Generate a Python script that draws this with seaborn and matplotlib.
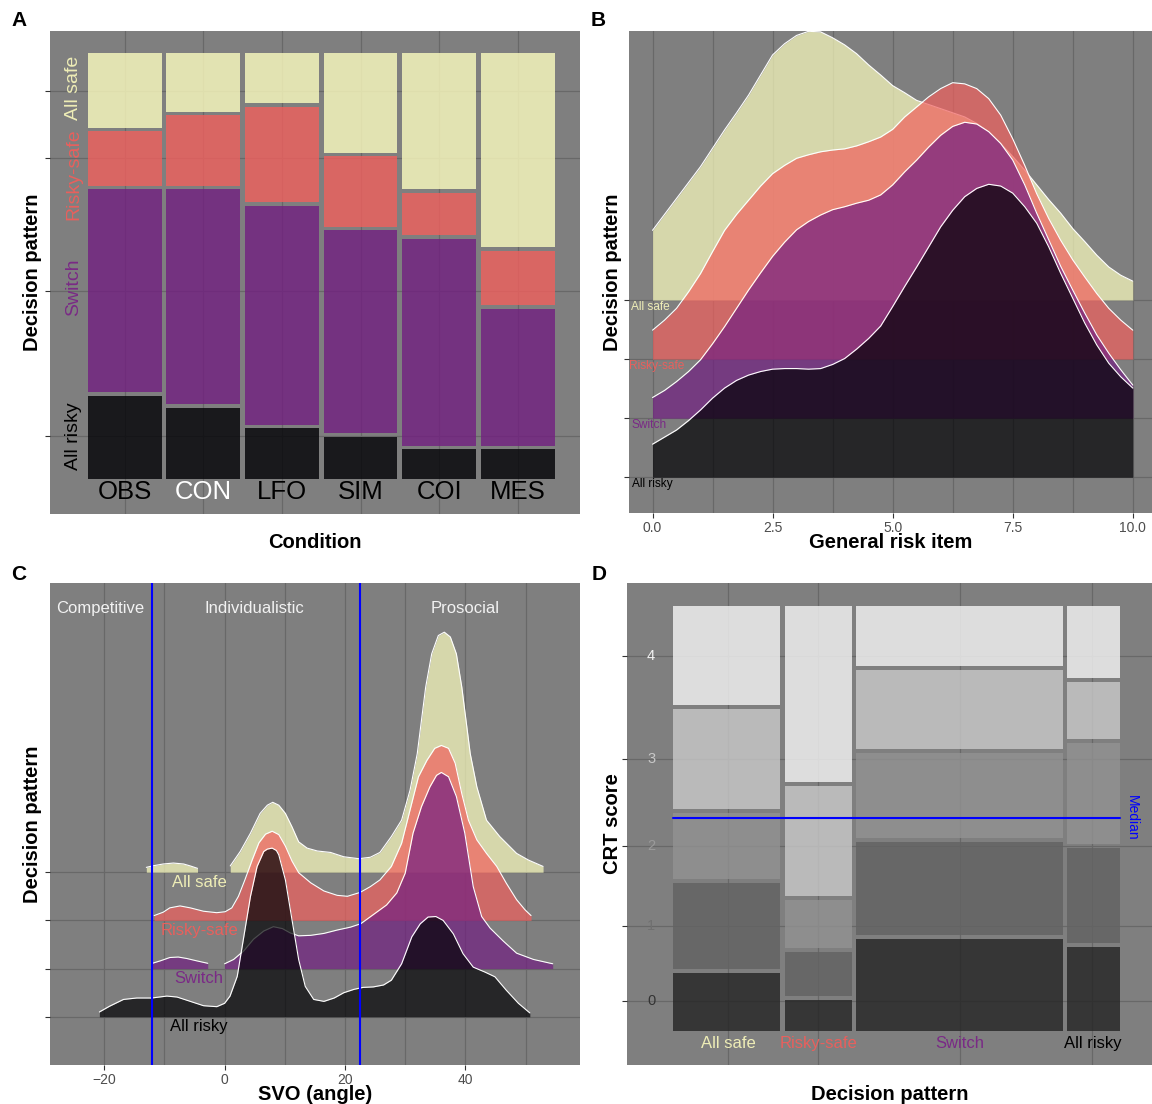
import numpy as np
import matplotlib
matplotlib.use("Agg")
import matplotlib.pyplot as plt
import seaborn as sns

# ======================= DATA =======================
# decision patterns, bottom -> top in the ridge / mosaic stacks
pattern_names = ["All risky", "Switch", "Risky-safe", "All safe"]
pattern_fill = ["#000004", "#721F81", "#F1605D", "#FCFDBF"]
pattern_text = ["#000000", "#7A2A86", "#E8605D", "#EEEDB6"]

# Panel A: share of each decision pattern per condition
conditions = ["OBS", "CON", "LFO", "SIM", "COI", "MES"]
condition_text = ["black", "white", "black", "black", "black", "black"]
share_all_risky = [0.199, 0.170, 0.122, 0.102, 0.073, 0.073]
share_switch = [0.485, 0.513, 0.523, 0.485, 0.495, 0.330]
share_risky_safe = [0.136, 0.174, 0.234, 0.174, 0.107, 0.137]
share_all_safe = [0.180, 0.142, 0.122, 0.238, 0.325, 0.461]

# Panel B: density ridges over the general risk item (ridge heights in row units)
risk_x = [0.0, 0.25, 0.5, 0.75, 1.0, 1.25, 1.5, 1.75, 2.0, 2.25, 2.5, 2.75, 3.0,
          3.25, 3.5, 3.75, 4.0, 4.25, 4.5, 4.75, 5.0, 5.25, 5.5, 5.75, 6.0, 6.25,
          6.5, 6.75, 7.0, 7.25, 7.5, 7.75, 8.0, 8.25, 8.5, 8.75, 9.0, 9.25, 9.5,
          9.75, 10.0]
risk_all_safe = [1.18, 1.45, 1.72, 1.99, 2.26, 2.57, 2.88, 3.17, 3.47, 3.81, 4.15, 4.34, 4.48,
                 4.55, 4.54, 4.44, 4.32, 4.17, 3.98, 3.81, 3.63, 3.51, 3.38, 3.31, 3.24, 3.17,
                 3.10, 2.99, 2.85, 2.65, 2.43, 2.20, 1.95, 1.70, 1.47, 1.21, 0.99, 0.76, 0.56,
                 0.42, 0.32]
risk_risky_safe = [0.49, 0.66, 0.86, 1.14, 1.45, 1.82, 2.18, 2.45, 2.69, 2.93, 3.14, 3.28, 3.40,
                   3.46, 3.51, 3.54, 3.56, 3.61, 3.68, 3.76, 3.89, 4.10, 4.27, 4.44, 4.58, 4.68,
                   4.66, 4.58, 4.41, 4.13, 3.73, 3.28, 2.80, 2.38, 2.01, 1.68, 1.39, 1.11, 0.86,
                   0.66, 0.49]
risk_switch = [0.35, 0.47, 0.62, 0.79, 0.99, 1.26, 1.55, 1.86, 2.17, 2.46, 2.74, 2.98, 3.19,
               3.33, 3.44, 3.53, 3.58, 3.64, 3.69, 3.78, 3.95, 4.17, 4.37, 4.59, 4.79, 4.94,
               5.01, 4.98, 4.85, 4.65, 4.37, 3.95, 3.47, 3.02, 2.57, 2.17, 1.78, 1.41, 1.10,
               0.82, 0.56]
risk_all_risky = [0.56, 0.68, 0.80, 0.96, 1.14, 1.34, 1.51, 1.64, 1.73, 1.79, 1.83, 1.84, 1.84,
                  1.83, 1.84, 1.91, 2.01, 2.17, 2.35, 2.56, 2.89, 3.23, 3.56, 3.90, 4.24, 4.52,
                  4.75, 4.89, 4.96, 4.93, 4.81, 4.58, 4.30, 3.90, 3.45, 3.03, 2.61, 2.24, 1.93,
                  1.70, 1.51]

# Panel C: density ridges over SVO angle (nan separates drawn pieces)
nan = float("nan")
svo_x_all_safe = [-13.0, -12.0, -10.2, -8.5, -6.8, -5.7, -4.5, nan,
                  0.94, 2.6, 4.3, 5.9, 7.1, 8.0, 9.0, 10.1, 11.2, 12.3, 13.7, 15.4,
                  17.6, 19.8, 22.3, 24.2, 25.8, 27.7, 29.4, 30.8, 32.0, 33.4, 34.4,
                  35.5, 36.5, 37.5, 38.5, 39.4, 40.8, 41.9, 43.5, 45.7, 48.5, 50.5, 52.9]
svo_h_all_safe = [0.10, 0.13, 0.17, 0.19, 0.17, 0.13, 0.08, nan,
                  0.13, 0.43, 0.81, 1.22, 1.39, 1.45, 1.39, 1.22, 0.94, 0.63, 0.50, 0.44,
                  0.41, 0.32, 0.28, 0.31, 0.41, 0.74, 1.08, 1.70, 2.46, 3.84, 4.53,
                  4.91, 4.98, 4.88, 4.53, 3.84, 2.46, 1.77, 1.08, 0.74, 0.39, 0.25, 0.12]
svo_x_risky_safe = [-11.7, -10.2, -9.1, -7.4, -5.7, -3.5, -1.3, 0.1, 1.2, 2.3, 3.4,
                    4.6, 5.7, 6.8, 7.9, 9.0, 10.1, 11.2, 12.3, 14.3, 16.5, 18.7, 20.4,
                    22.5, 24.2, 25.8, 27.7, 29.4, 30.8, 32.2, 33.6, 34.9, 36.0, 37.2,
                    38.3, 39.4, 40.5, 41.9, 43.5, 45.2, 46.8, 48.5, 49.9, 50.9]
svo_h_risky_safe = [0.10, 0.17, 0.26, 0.30, 0.26, 0.19, 0.16, 0.18, 0.26, 0.50, 0.85,
                    1.26, 1.61, 1.79, 1.85, 1.78, 1.54, 1.23, 0.99, 0.78, 0.61, 0.52, 0.50,
                    0.58, 0.70, 0.84, 1.12, 1.60, 2.29, 2.98, 3.32, 3.57, 3.63, 3.57,
                    3.26, 2.63, 2.08, 1.67, 1.39, 1.12, 0.77, 0.43, 0.22, 0.10]
svo_x_switch = [-12.0, -10.7, -9.1, -7.7, -6.3, -4.6, -2.8, nan,
                0.0, 1.5, 3.2, 4.8, 6.5, 8.1, 9.6, 10.9, 12.3, 14.3, 16.5, 18.7, 20.9,
                22.6, 24.7, 26.9, 28.6, 30.0, 31.3, 32.7, 34.1, 35.2, 36.0, 37.2, 38.5,
                39.9, 41.3, 42.7, 44.1, 46.3, 48.5, 51.3, 54.5]
svo_h_switch = [0.11, 0.16, 0.23, 0.24, 0.21, 0.16, 0.11, nan,
                0.10, 0.19, 0.37, 0.61, 0.78, 0.87, 0.83, 0.74, 0.68, 0.69, 0.73, 0.80, 0.86,
                0.93, 1.12, 1.32, 1.57, 1.98, 2.81, 3.36, 3.77, 4.01, 4.07, 3.98, 3.57,
                2.81, 1.70, 1.08, 0.84, 0.57, 0.32, 0.19, 0.10]
svo_x_all_risky = [-20.8, -19.1, -16.8, -14.6, -12.1, -9.6, -7.9, -5.7, -3.5, -1.3, 0.0,
                   0.9, 2.1, 3.2, 4.3, 5.4, 6.5, 7.1, 7.9, 8.6, 9.0, 10.1, 11.2, 12.3, 13.4,
                   14.8, 16.5, 18.2, 19.8, 21.5, 23.0, 24.7, 26.4, 27.7, 29.4, 31.1, 32.5,
                   33.8, 35.1, 36.3, 38.0, 39.6, 41.3, 43.2, 44.9, 46.8, 48.8, 50.7]
svo_h_all_risky = [0.10, 0.22, 0.36, 0.39, 0.39, 0.43, 0.41, 0.32, 0.23, 0.21, 0.28,
                   0.43, 0.84, 1.67, 2.50, 3.12, 3.43, 3.48, 3.50, 3.45, 3.36, 2.84, 2.01, 1.19,
                   0.63, 0.36, 0.32, 0.39, 0.50, 0.57, 0.61, 0.62, 0.66, 0.76, 1.10, 1.66, 1.93,
                   2.07, 2.08, 2.00, 1.72, 1.31, 1.03, 0.93, 0.83, 0.55, 0.28, 0.08]
svo_bounds = [-12.04, 22.45]
svo_regions = ["Competitive", "Individualistic", "Prosocial"]

# Panel D: CRT score mosaic per decision pattern
crt_patterns = ["All safe", "Risky-safe", "Switch", "All risky"]
crt_pattern_text = ["#EEEDB6", "#E8605D", "#7A2A86", "#000000"]
crt_pattern_share = [0.244, 0.161, 0.472, 0.123]
crt_scores = ["0", "1", "2", "3", "4"]
crt_score_fill = ["#242424", "#626262", "#929292", "#C9C9C9", "#F6F6F6"]
crt_score_text = ["#333333", "#707070", "#9A9A9A", "#C8C8C8", "#F2F2F2"]
crt_all_safe = [0.142, 0.211, 0.165, 0.243, 0.239]
crt_risky_safe = [0.077, 0.113, 0.123, 0.268, 0.418]
crt_switch = [0.220, 0.228, 0.211, 0.194, 0.147]
crt_all_risky = [0.203, 0.232, 0.247, 0.142, 0.176]
crt_median_share = 0.50

# ======================= STYLE =======================
sns.set_theme(style="dark")
plt.rcParams['font.family'] = ['Liberation Sans', 'DejaVu Sans']

W, H = 1152, 1104
fig = plt.figure(figsize=(W / 100, H / 100), dpi=100)
fig.patch.set_facecolor("white")

BG = "#7F7F7F"
GRID = "#686868"


def add_ax(l, t, r, b):
    return fig.add_axes([l / W, 1 - b / H, (r - l) / W, (b - t) / H])


def style_ax(ax):
    ax.set_facecolor(BG)
    for s in ax.spines.values():
        s.set_visible(False)
    ax.grid(True, which="both", color=GRID, lw=0.9)
    ax.set_axisbelow(True)
    ax.tick_params(which="major", bottom=True, left=True, color="#333333",
                   length=3.5, width=0.8, labelcolor="#4D4D4D", labelsize=10, pad=2)
    ax.tick_params(which="minor", bottom=False, left=False, length=0)


def axis_titles(ax, xl, yl, xy, yx):
    ax.set_xlabel(xl, fontsize=14.5, fontweight="bold", color="black", va="center")
    ax.set_ylabel(yl, fontsize=14.5, fontweight="bold", color="black", va="center")
    ax.xaxis.set_label_coords(0.5, xy)
    ax.yaxis.set_label_coords(yx, 0.5)


def pieces(x, h):
    x = np.asarray(x, float)
    h = np.asarray(h, float)
    out, cur = [], []
    for xi, hi in zip(x, h):
        if np.isnan(xi) or np.isnan(hi):
            if cur:
                out.append(np.array(cur))
            cur = []
        else:
            cur.append((xi, hi))
    if cur:
        out.append(np.array(cur))
    return out


def ridges(ax, series, zbase=2):
    # series: list of (baseline, x, h, color) drawn top row first
    for k, (base, x, h, col) in enumerate(series):
        for p in pieces(x, h):
            ax.fill_between(p[:, 0], base, base + p[:, 1], color=col, alpha=0.7,
                            lw=0, zorder=zbase + k)
            sns.lineplot(x=p[:, 0], y=base + p[:, 1], ax=ax, color="white", lw=0.8,
                         sort=False, estimator=None, zorder=zbase + k + 0.5)


# ======================= PANEL A =======================
axA = add_ax(50, 31, 579.5, 514)
style_ax(axA)
shares = np.array([share_all_risky, share_switch, share_risky_safe, share_all_safe], float)
shares = shares / shares.sum(axis=0)
cum = np.vstack([np.zeros(shares.shape[1]), np.cumsum(shares, axis=0)])
xpos = np.arange(len(conditions))
gapA = 0.0085
for k in range(4):
    lo = cum[k] + (gapA / 2 if k > 0 else 0)
    hi = cum[k + 1] - (gapA / 2 if k < 3 else 0)
    axA.bar(xpos, hi - lo, bottom=lo, width=0.94, color=pattern_fill[k], alpha=0.8,
            lw=0, zorder=2)
axA.set_xlim(-0.951, 5.786)
axA.set_ylim(-0.0834, 1.0515)
axA.set_xticks(xpos)
axA.set_xticklabels([])
axA.tick_params(axis="x", length=0)
obs_centers = (cum[:-1, 0] + cum[1:, 0]) / 2
axA.set_yticks(obs_centers)
axA.set_yticklabels([])
label_y_A = [0.1006, 0.449, 0.715, 0.919]
for k in range(4):
    axA.text(-0.646, label_y_A[k], pattern_names[k], rotation=90, ha="center",
             va="center", color=pattern_text[k], fontsize=14, zorder=5)
for i, c in enumerate(conditions):
    axA.text(i, -0.0317, c, ha="center", va="center", fontsize=18.5,
             color=condition_text[i], zorder=5)
axis_titles(axA, "Condition", "Decision pattern", (514 - 542) / 483, (32.5 - 50) / 529.5)

# ======================= PANEL B =======================
axB = add_ax(629, 31, 1152, 513)
style_ax(axB)
axB.set_xlim(-0.49, 10.40)
axB.set_ylim(0.395, 8.555)
axB.set_xticks([0, 2.5, 5.0, 7.5, 10.0])
axB.set_xticklabels(["0.0", "2.5", "5.0", "7.5", "10.0"])
axB.set_xticks([1.25, 3.75, 6.25, 8.75], minor=True)
axB.set_yticks([1, 2, 3, 4])
axB.set_yticklabels([])
risk_series = [risk_all_risky, risk_switch, risk_risky_safe, risk_all_safe]
ridges(axB, [(k + 1, risk_x, risk_series[k], pattern_fill[k]) for k in (3, 2, 1, 0)])
label_x_B = [-0.42, -0.44, -0.49, -0.44]
for k in range(4):
    axB.text(label_x_B[k], k + 1 - 0.11, pattern_names[k], ha="left", va="center",
             fontsize=8.6, color=pattern_text[k], zorder=20)
axis_titles(axB, "General risk item", "Decision pattern", (513 - 542) / 482, (612 - 629) / 523)

# ======================= PANEL C =======================
axC = add_ax(50, 583, 579.5, 1065)
style_ax(axC)
axC.set_xlim(-29.0, 58.95)
axC.set_ylim(0.0, 10.0)
axC.set_xticks([-20, 0, 20, 40])
axC.set_xticklabels(["\u221220", "0", "20", "40"])
axC.set_xticks([-10, 10, 30, 50], minor=True)
axC.set_yticks([1, 2, 3, 4])
axC.set_yticklabels([])
svo_series = [(svo_x_all_risky, svo_h_all_risky), (svo_x_switch, svo_h_switch),
              (svo_x_risky_safe, svo_h_risky_safe), (svo_x_all_safe, svo_h_all_safe)]
ridges(axC, [(k + 1, svo_series[k][0], svo_series[k][1], pattern_fill[k]) for k in (3, 2, 1, 0)])
for b in svo_bounds:
    axC.axvline(b, color="#0000FF", lw=1.5, zorder=30)
for k in range(4):
    axC.text(-4.25, k + 1 - 0.21, pattern_names[k], ha="center", va="center",
             fontsize=12, color=pattern_text[k], zorder=31)
for name, xc in zip(svo_regions, [-20.6, 5.0, 40.0]):
    axC.text(xc, 9.47, name, ha="center", va="center", fontsize=12, color="#F2F2F2", zorder=31)
axis_titles(axC, "SVO (angle)", "Decision pattern", (1065 - 1094.5) / 482, (32.5 - 50) / 529.5)

# ======================= PANEL D =======================
axD = add_ax(627, 583, 1152, 1065)
style_ax(axD)
axD.set_xlim(-0.104, 1.072)
axD.set_ylim(-0.080, 1.053)
crt_table = np.array([crt_all_safe, crt_risky_safe, crt_switch, crt_all_risky], float)
crt_table = crt_table / crt_table.sum(axis=1, keepdims=True)
wshare = np.array(crt_pattern_share, float)
wshare = wshare / wshare.sum()
xedges = np.concatenate([[0], np.cumsum(wshare)])
gapD = 0.0096
ncol = len(crt_patterns)
nrow = len(crt_scores)
for j in range(ncol):
    x0 = xedges[j] + (gapD / 2 if j > 0 else 0)
    x1 = xedges[j + 1] - (gapD / 2 if j < ncol - 1 else 0)
    ycum = np.concatenate([[0], np.cumsum(crt_table[j])])
    for r in range(nrow):
        y0 = ycum[r] + (gapD / 2 if r > 0 else 0)
        y1 = ycum[r + 1] - (gapD / 2 if r < nrow - 1 else 0)
        axD.bar(x0, y1 - y0, bottom=y0, width=x1 - x0, align="edge",
                color=crt_score_fill[r], alpha=0.8, lw=0, zorder=2)
col_centers = (xedges[:-1] + xedges[1:]) / 2
ycum0 = np.concatenate([[0], np.cumsum(crt_table[0])])
row_centers = (ycum0[:-1] + ycum0[1:]) / 2
axD.set_xticks(col_centers)
axD.set_xticklabels([])
axD.tick_params(axis="x", length=0)
axD.set_yticks(row_centers)
axD.set_yticklabels([])
for r in range(nrow):
    axD.text(-0.050, row_centers[r], crt_scores[r], ha="center", va="center",
             fontsize=10.5, color=crt_score_text[r], zorder=5)
for j in range(ncol):
    axD.text(col_centers[j], -0.0305, crt_patterns[j], ha="center", va="center",
             fontsize=12, color=crt_pattern_text[j], zorder=5)
axD.plot([0, 1], [crt_median_share, crt_median_share], color="#0000FF", lw=1.5, zorder=10)
axD.text(1.0276, crt_median_share, "Median", rotation=270, ha="center", va="center",
         fontsize=10, color="#0000FF", zorder=10)
axis_titles(axD, "Decision pattern", "CRT score", (1065 - 1094.5) / 482, (613 - 627) / 525)

# ======================= PANEL LETTERS =======================
for letter, (px, py) in zip("ABCD", [(19, 21), (598, 20.5), (19, 574), (599, 574)]):
    fig.text(px / W, 1 - py / H, letter, fontsize=15, fontweight="bold",
             ha="center", va="center", color="black")

fig.savefig("out.png", dpi=100)
